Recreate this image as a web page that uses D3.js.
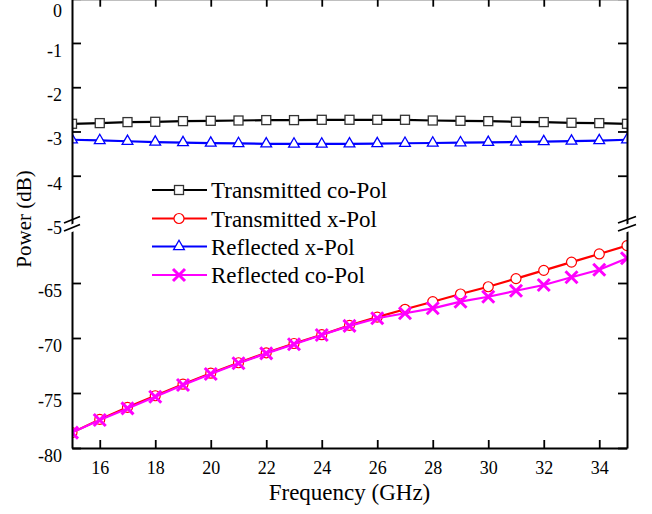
<!DOCTYPE html>
<html>
<head>
<meta charset="utf-8">
<script src="https://cdn.jsdelivr.net/npm/d3@7"></script>
<style>
  html, body { margin: 0; padding: 0; background: #fff; }
  svg { display: block; }
  text { font-family: "Liberation Serif", "Times New Roman", serif; fill: #000; }
</style>
</head>
<body>
<svg id="chart" width="652" height="514"></svg>
<script>
// ---------- data ----------
const frequency = [15,16,17,18,19,20,21,22,23,24,25,26,27,28,29,30,31,32,33,34,35];
const transmittedCoPol = [-2.826,-2.811,-2.788,-2.781,-2.766,-2.759,-2.752,-2.743,-2.743,-2.736,-2.736,-2.736,-2.736,-2.752,-2.759,-2.766,-2.781,-2.788,-2.804,-2.811,-2.826];
const transmittedXPol = [-78.6,-77.4,-76.3,-75.25,-74.2,-73.2,-72.25,-71.35,-70.5,-69.7,-68.85,-68.1,-67.39,-66.7,-66.0,-65.34,-64.6,-63.85,-63.1,-62.36,-61.6];
const reflectedXPol = [-3.187,-3.203,-3.221,-3.239,-3.251,-3.262,-3.271,-3.278,-3.282,-3.282,-3.278,-3.273,-3.266,-3.260,-3.253,-3.246,-3.237,-3.228,-3.217,-3.206,-3.187];
const reflectedCoPol = [-78.6,-77.45,-76.4,-75.34,-74.27,-73.27,-72.3,-71.4,-70.57,-69.73,-68.9,-68.2,-67.75,-67.3,-66.7,-66.25,-65.7,-65.18,-64.48,-63.8,-62.75];
const seriesNames = ["Transmitted co-Pol","Transmitted x-Pol","Reflected x-Pol","Reflected co-Pol"];
const xTickValues = [16,18,20,22,24,26,28,30,32,34];
const yTickValues = [-80,-75,-70,-65,-4,-3,-2,-1,0];
const yLabelValues = [-80,-75,-70,-65,-5,-4,-3,-2,-1,0];
const yBreakDomain = [-80,-60,-5,0];

// ---------- layout ----------
const svg = d3.select("#chart");
const pLeft = 72, pRight = 627, pTop = -1.3, pBottom = 448;
const breakLow = 228, breakHigh = 220;

const x = d3.scaleLinear().domain([15,35]).range([pLeft,pRight]);
const y = d3.scaleLinear().domain(yBreakDomain).range([pBottom, breakLow, breakHigh, pTop]);

const series = [
  {name: seriesNames[0], values: transmittedCoPol, color: "#000000", marker: "square"},
  {name: seriesNames[1], values: transmittedXPol, color: "#ff0000", marker: "circle"},
  {name: seriesNames[2], values: reflectedXPol, color: "#0000ff", marker: "triangle"},
  {name: seriesNames[3], values: reflectedCoPol, color: "#ff00ff", marker: "cross"}
];

svg.append("defs").append("clipPath").attr("id","plotclip")
  .append("rect").attr("x",pLeft).attr("y",pTop).attr("width",pRight-pLeft).attr("height",pBottom-pTop);

function drawMarker(g, type, cx, cy, color) {
  if (type === "square") {
    g.append("rect").attr("x",cx-4.5).attr("y",cy-4.5).attr("width",9).attr("height",9)
      .attr("fill","#fff").attr("stroke","#333").attr("stroke-width",1.3);
  } else if (type === "circle") {
    g.append("circle").attr("cx",cx).attr("cy",cy).attr("r",5)
      .attr("fill","#fff").attr("stroke",color).attr("stroke-width",1.2);
  } else if (type === "triangle") {
    g.append("path").attr("d", d3.symbol(d3.symbolTriangle, 50)())
      .attr("transform",`translate(${cx},${cy})`)
      .attr("fill","#fff").attr("stroke",color).attr("stroke-width",1.3);
  } else if (type === "cross") {
    const s = 6;
    g.append("path").attr("d",`M${cx-s},${cy-s}L${cx+s},${cy+s}M${cx-s},${cy+s}L${cx+s},${cy-s}`)
      .attr("stroke",color).attr("stroke-width",3).attr("fill","none");
  }
}

const plot = svg.append("g").attr("clip-path","url(#plotclip)");
const line = d3.line().x(d => x(d[0])).y(d => y(d[1]));
series.forEach(s => {
  const pts = frequency.map((f,i) => [f, s.values[i]]);
  plot.append("path").datum(pts).attr("d", line)
    .attr("fill","none").attr("stroke",s.color).attr("stroke-width",2.2);
  const mg = plot.append("g");
  pts.forEach(p => drawMarker(mg, s.marker, x(p[0]), y(p[1]), s.color));
});

// ---------- axes ----------
const axisStyle = g => { g.selectAll("path.domain").attr("stroke","#000").attr("stroke-width",2);
  g.selectAll(".tick line").attr("stroke","#000").attr("stroke-width",1.8); };
const fmt = d => String(d);

const gBottom = svg.append("g").attr("transform",`translate(0,${pBottom})`)
  .call(d3.axisBottom(x).tickValues(xTickValues).tickSizeInner(-8).tickSizeOuter(0).tickPadding(13).tickFormat(fmt));
gBottom.call(axisStyle);
gBottom.attr("font-family", null);
gBottom.selectAll("text").attr("font-size",18);

const gTop = svg.append("g").attr("transform",`translate(0,${pTop})`)
  .call(d3.axisTop(x).tickValues(xTickValues).tickSizeInner(-8).tickSizeOuter(0).tickFormat(""));
gTop.call(axisStyle);

const gLeft = svg.append("g").attr("transform",`translate(${pLeft},0)`)
  .call(d3.axisLeft(y).tickValues(yLabelValues).tickSizeInner(-9).tickSizeOuter(0).tickPadding(10).tickFormat(fmt));
gLeft.call(axisStyle);
gLeft.attr("font-family", null);
gLeft.selectAll(".tick").filter(d => d === -5).select("line").remove();
gLeft.selectAll("text").attr("font-size",18).attr("dy","0.75em");
gLeft.selectAll(".tick").filter(d => d === 0).select("text").attr("dy","0.98em");

const gRight = svg.append("g").attr("transform",`translate(${pRight},0)`)
  .call(d3.axisRight(y).tickValues(yTickValues).tickSizeInner(-9).tickSizeOuter(0).tickFormat(""));
gRight.call(axisStyle);

// axis breaks
function axisBreak(cx, hw) {
  const yc = (breakLow + breakHigh) / 2;
  const g = svg.append("g");
  g.append("path").attr("d",`M${cx-hw},${yc+3.5}L${cx+hw},${yc-3}L${cx+hw},${yc+5}L${cx-hw},${yc+11}Z`)
    .attr("fill","#fff").attr("stroke","none");
  g.append("path").attr("d",`M${cx-hw},${yc-1}L${cx+hw},${yc-7.5}M${cx-hw},${yc+7}L${cx+hw},${yc+0.5}`)
    .attr("stroke","#000").attr("stroke-width",1.8).attr("fill","none");
}
axisBreak(pLeft, 8);
axisBreak(pRight, 9);

// ---------- titles ----------
svg.append("text").attr("x",(pLeft+pRight)/2).attr("y",500).attr("text-anchor","middle")
  .attr("font-size",23).text("Frequency (GHz)");
svg.append("text").attr("transform",`translate(31,219) rotate(-90)`).attr("text-anchor","middle")
  .attr("font-size",21).text("Power (dB)");

// ---------- legend ----------
const legendRows = [190, 218.5, 246.5, 275];
series.forEach((s,i) => {
  const g = svg.append("g");
  const ly = legendRows[i];
  g.append("line").attr("x1",152).attr("x2",207).attr("y1",ly).attr("y2",ly)
    .attr("stroke",s.color).attr("stroke-width",2.2);
  drawMarker(g, s.marker, 179, ly, s.color);
  g.append("text").attr("x",211).attr("y",ly).attr("dy","0.36em")
    .attr("font-size",23).text(s.name);
});
</script>
</body>
</html>
